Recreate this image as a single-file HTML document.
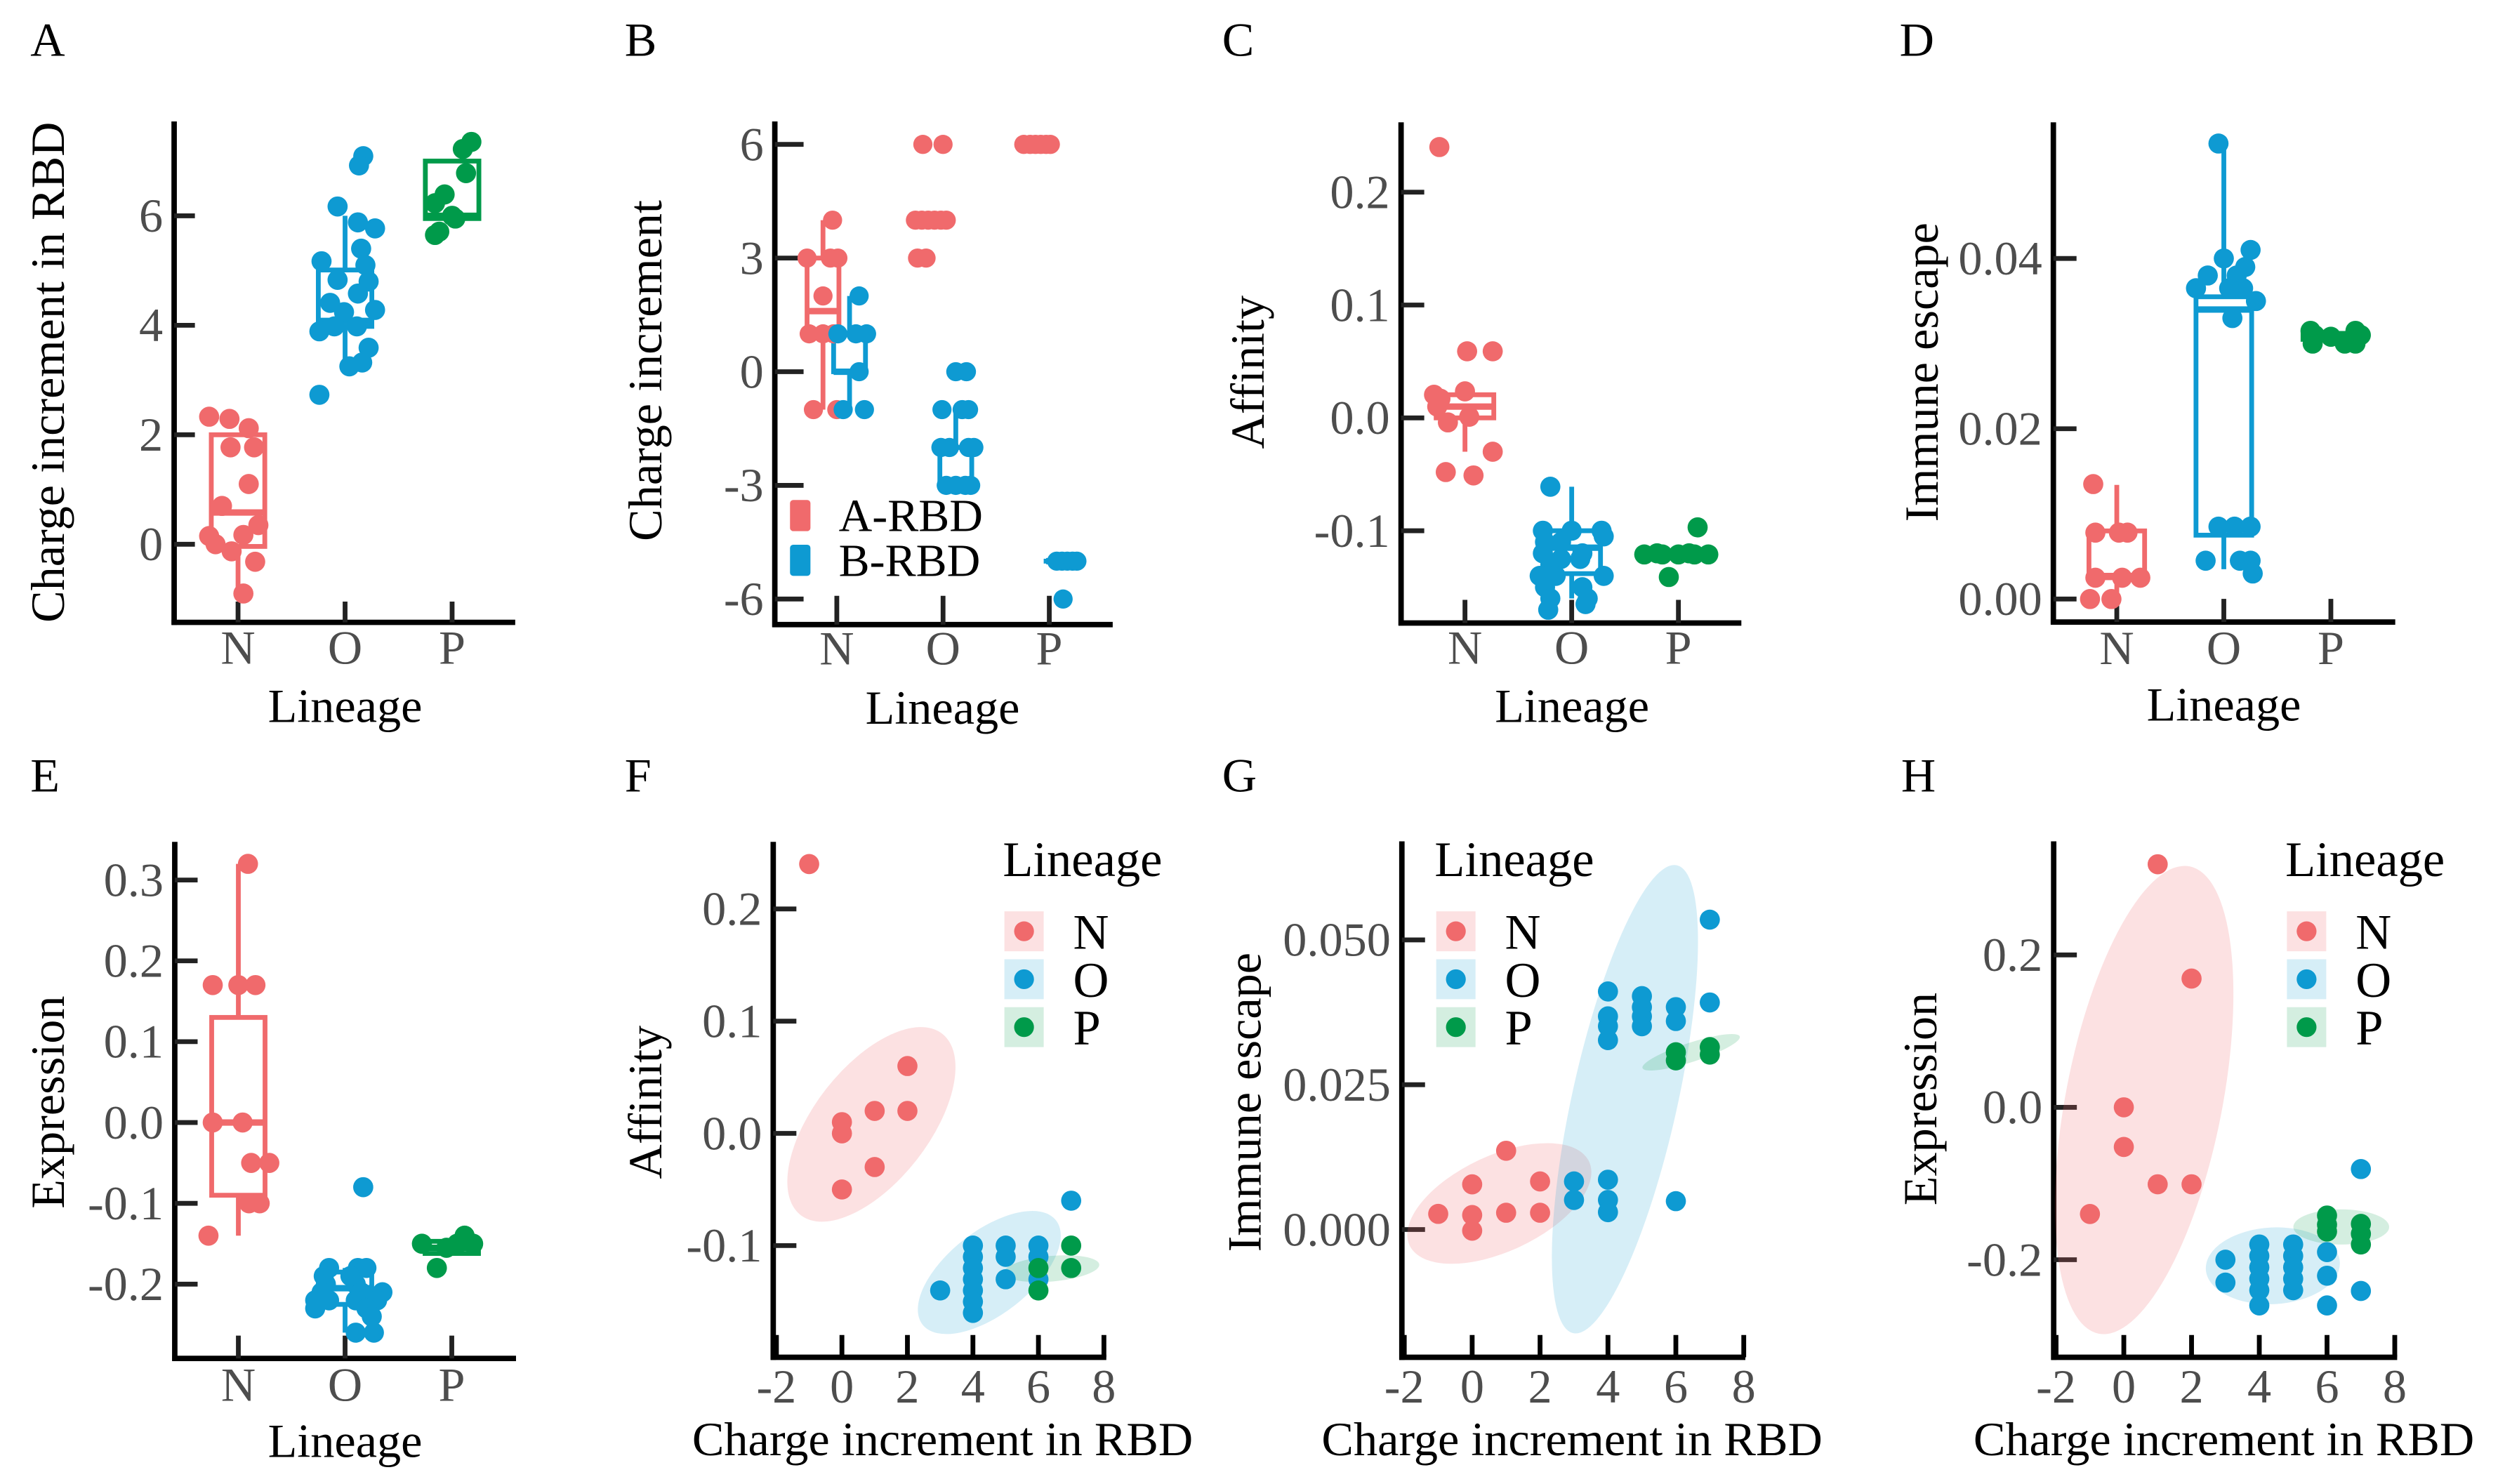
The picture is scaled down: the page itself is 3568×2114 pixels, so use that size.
<!DOCTYPE html>
<html><head><meta charset="utf-8"><title>Charge increment panels</title>
<style>
html,body{margin:0;padding:0;background:#fff;}
svg{display:block;}
text{font-family:"Liberation Serif","DejaVu Serif",serif;}
</style></head>
<body>
<svg id="fig" xmlns="http://www.w3.org/2000/svg" width="3568" height="2114" viewBox="0 0 1568 929" preserveAspectRatio="none">
<rect x="0" y="0" width="1568" height="929" fill="#fff"/>
</svg>
<script>
// ===== shared =====
const lineages = ['N','O','P'];
const COLORS = ['#F06A6C','#0E9AD2','#009A4A'];
const FILLS = ['rgba(240,106,108,0.2)','rgba(14,154,210,0.17)','rgba(0,154,74,0.17)'];

// ===== Panel A: charge increment in RBD by lineage =====
const aTicks = [0,2,4,6];
const aTickLabels = ['0','2','4','6'];
const aCat = [0,0,0,0,0,0,0,0,0,0,0,0,0,0, 1,1,1,1,1,1,1,1,1,1,1,1,1,1,1,1,1,1,1,1,1, 2,2,2,2,2,2,2,2,2];
const aVal = [2.33,2.29,2.12,1.77,1.77,1.1,0.7,0.35,0.15,0.17,0,-0.13,-0.32,-0.9,
  7.09,6.92,6.17,5.88,5.77,5.4,5.17,5.1,4.83,4.8,4.41,4.58,4.28,4.24,3.89,3.98,3.98,3.59,3.25,3.32,2.73,
  7.35,7.22,6.78,6.39,6.23,5.95,5.71,5.65,6.0];
const aJit = [-0.27,-0.08,0.1,-0.07,0.15,0.1,-0.15,0.19,-0.27,0.05,-0.21,-0.06,0.16,0.05,
  0.17,0.13,-0.07,0.12,0.28,0.15,-0.22,0.19,-0.07,0.22,-0.14,0.12,0.28,-0.01,-0.24,-0.1,0.11,0.22,0.04,0.16,-0.24,
  0.18,0.1,0.13,-0.07,-0.16,0.03,-0.12,-0.16,0.0];
const aLow = [-1.0,3.11,5.95], aQ1 = [-0.04,3.98,5.95], aMed = [0.58,4.08,6.0], aQ3 = [2.0,5.01,7.0], aHigh = [2.0,6.0,7.0];

// ===== Panel B: A-RBD / B-RBD =====
const bTicks = [-6,-3,0,3,6];
const bTickLabels = ['-6','-3','0','3','6'];
const bGroups = ['A-RBD','B-RBD'];
const bCat = [0,0,0,0,0,0,0,0,0,0, 0,0,0,0,0,0,0, 1,1,1,1,1,1,1,1,1,1, 1,1,1,1,1,1,1,1,1,1,1,1,1, 2,2,2,2,2,2, 2,2,2,2,2,2];
const bGrp = [0,0,0,0,0,0,0,0,0,0, 1,1,1,1,1,1,1, 0,0,0,0,0,0,0,0,0,0, 1,1,1,1,1,1,1,1,1,1,1,1,1, 0,0,0,0,0,0, 1,1,1,1,1,1];
const bVal = [4,3,3,3,2,1,1,1,-1,-1, 2,1,1,1,0,-1,-1, 6,6,4,4,4,4,4,4,3,3, 0,0,-1,-1,-1,-2,-2,-2,-2,-3,-3,-3,-3, 6,6,6,6,6,6, -5,-5,-5,-5,-5,-6];
const bJit = [0.09,-0.15,0.07,0.14,0,-0.13,0,0.1,-0.09,0.13, 0.09,-0.11,0.06,0.16,0.09,-0.06,0.14, -0.06,0.13,-0.13,-0.07,-0.01,0.05,0.11,0.16,-0.11,-0.03,
  0,0.1,-0.13,0.06,0.12,-0.14,-0.06,0.12,0.17,-0.09,0,0.09,0.14, -0.11,-0.05,0,0.05,0.1,0.14, -0.05,0,0.05,0.1,0.14,0.01];
const bBoxCat = [0,0,1,1,2,2];
const bBoxGrp = [0,1,0,1,0,1];
const bLow = [-1,-1,4,-3,6,-5], bQ1 = [1,0,4,-3,6,-5], bMed = [1.6,0,4,-3,6,-5], bQ3 = [3,1,4,-2,6,-5], bHigh = [4,2,4,-1,6,-5];

// ===== Panel C: affinity =====
const cTicks = [-0.1,0,0.1,0.2];
const cTickLabels = ['-0.1','0.0','0.1','0.2'];
const cCat = [0,0,0,0,0,0,0,0,0,0,0,0, 1,1,1,1,1,1,1,1,1,1,1,1,1,1,1,1,1,1,1,1,1, 2,2,2,2,2,2,2,2,2];
const cVal = [0.24,0.059,0.059,0.0205,0.0235,0.01,-0.004,0.001,-0.03,-0.048,-0.051,0.017,
  -0.061,-0.10,-0.10,-0.10,-0.105,-0.11,-0.11,-0.12,-0.12,-0.125,-0.125,-0.13,-0.14,-0.14,-0.14,-0.15,-0.15,-0.16,-0.16,-0.165,-0.17,
  -0.097,-0.121,-0.121,-0.121,-0.121,-0.121,-0.12,-0.12,-0.141];
const cJit = [-0.24,0.02,0.26,-0.29,0.0,-0.26,-0.16,0.04,0.26,-0.18,0.08,-0.23,
  -0.2,-0.27,0.0,0.28,0.3,-0.25,-0.1,-0.27,0.1,-0.1,0.08,-0.2,-0.3,-0.15,0.3,-0.25,0.1,-0.2,0.15,0.13,-0.22,
  0.18,-0.32,-0.15,0.0,0.15,0.28,-0.2,0.1,-0.09];
const cLow = [-0.03,-0.16,-0.121], cQ1 = [0.0,-0.138,-0.121], cMed = [0.01,-0.115,-0.121], cQ3 = [0.0205,-0.1,-0.121], cHigh = [0.0235,-0.061,-0.121];

// ===== Panel D: immune escape =====
const dTicks = [0,0.02,0.04];
const dTickLabels = ['0.00','0.02','0.04'];
const dCat = [0,0,0,0,0,0,0,0,0, 1,1,1,1,1,1,1,1,1,1,1,1,1,1,1,1,1,1, 2,2,2,2,2,2,2,2];
const dVal = [0.0135,0.0078,0.0078,0.0078,0.0025,0.0025,0.0025,0.0,0.0,
  0.0535,0.041,0.040,0.039,0.038,0.038,0.0365,0.0365,0.035,0.033,0.0085,0.0085,0.0085,0.0045,0.0045,0.0045,0.003,0.0365,
  0.0315,0.031,0.0315,0.031,0.030,0.030,0.030,0.0308];
const dJit = [-0.22,-0.2,0.02,0.1,-0.2,0.05,0.22,-0.25,-0.05,
  -0.05,0.25,0.0,0.2,-0.15,0.12,-0.26,0.18,0.3,0.08,-0.05,0.1,0.25,-0.17,0.15,0.25,0.27,0.05,
  -0.19,-0.15,0.23,0.28,-0.17,0.13,0.23,0.0];
const dLow = [0.0,0.0035,0.0305], dQ1 = [0.0025,0.0075,0.0305], dMed = [0.0027,0.034,0.031], dQ3 = [0.008,0.0355,0.0312], dHigh = [0.0134,0.0535,0.0315];

// ===== Panel E: expression =====
const eTicks = [-0.2,-0.1,0,0.1,0.2,0.3];
const eTickLabels = ['-0.2','-0.1','0.0','0.1','0.2','0.3'];
const eCat = [0,0,0,0,0,0,0,0,0,0,0, 1,1,1,1,1,1,1,1,1,1,1,1,1,1,1,1,1,1,1,1, 2,2,2,2,2,2,2];
const eVal = [0.32,0.17,0.17,0.17,0.0,0.0,-0.05,-0.05,-0.10,-0.10,-0.14,
  -0.08,-0.18,-0.18,-0.18,-0.19,-0.19,-0.20,-0.20,-0.21,-0.21,-0.21,-0.22,-0.22,-0.22,-0.22,-0.23,-0.23,-0.24,-0.26,-0.26,
  -0.14,-0.15,-0.15,-0.145,-0.15,-0.155,-0.18];
const eJit = [0.09,-0.24,0.0,0.16,-0.24,0.04,0.12,0.29,0.1,0.2,-0.28,
  0.17,-0.15,0.12,0.2,-0.2,0.05,-0.18,0.1,-0.22,0.15,0.35,-0.28,-0.15,0.1,0.3,-0.28,0.2,0.25,0.1,0.27,
  0.12,-0.28,0.05,0.11,0.2,-0.05,-0.14];
const eLow = [-0.14,-0.26,-0.162], eQ1 = [-0.09,-0.225,-0.162], eMed = [0.0,-0.205,-0.155], eQ3 = [0.13,-0.185,-0.147], eHigh = [0.32,-0.18,-0.145];

// ===== Scatter panels F/G/H (x = charge increment) =====
const xTicks = [-2,0,2,4,6,8];
const xTickLabels = ['-2','0','2','4','6','8'];
const fX = [-1,0,0,0,1,1,2,2, 3,4,4,4,4,4,4,4,5,5,5,6,6,6,7, 6,6,7,7];
const fY = [0.24,0.01,0.0,-0.05,0.02,-0.03,0.06,0.02, -0.14,-0.10,-0.11,-0.12,-0.13,-0.14,-0.15,-0.16,-0.10,-0.11,-0.13,-0.10,-0.11,-0.13,-0.06, -0.12,-0.14,-0.10,-0.12];
const fG = [0,0,0,0,0,0,0,0, 1,1,1,1,1,1,1,1,1,1,1,1,1,1,1, 2,2,2,2];
const fTicks = [-0.1,0,0.1,0.2];
const fTickLabels = ['-0.1','0.0','0.1','0.2'];
const fEllCx = [0.9,4.5,6.4], fEllCy = [0.008,-0.124,-0.1206];
const fEllA = [72,53,30], fEllB = [36,26,8], fEllAng = [-52,-38,-5];

const gX = [-1,0,0,0,1,1,2,2, 3,3,4,4,4,4,4,4,4,5,5,5,5,6,6,6,7,7, 6,6,7,7];
const gY = [0.0027,0.0078,0.0025,-0.0002,0.0136,0.0029,0.0083,0.0029,
  0.0083,0.0051,0.0086,0.0051,0.003,0.0411,0.0368,0.0351,0.0327,0.0403,0.0384,0.0368,0.0351,0.0384,0.036,0.0049,0.0535,0.0392,
  0.0306,0.0292,0.0315,0.0302];
const gG = [0,0,0,0,0,0,0,0, 1,1,1,1,1,1,1,1,1,1,1,1,1,1,1,1,1,1, 2,2,2,2];
const gTicks = [0,0.025,0.05];
const gTickLabels = ['0.000','0.025','0.050'];
const gEllCx = [0.8,4.5,6.45], gEllCy = [0.0045,0.0225,0.0306];
const gEllA = [62,150,32], gEllB = [30,33,6], gEllAng = [-25,-77.5,-18];

const hX = [-1,0,0,1,1,2,2, 3,3,4,4,4,4,4,4,5,5,5,5,5,6,6,6,7,7, 6,6,6,7,7,7];
const hY = [-0.14,0.0,-0.052,0.319,-0.101,0.169,-0.101,
  -0.20,-0.23,-0.18,-0.195,-0.21,-0.225,-0.24,-0.26,-0.18,-0.195,-0.21,-0.225,-0.24,-0.19,-0.221,-0.26,-0.081,-0.241,
  -0.142,-0.154,-0.163,-0.153,-0.166,-0.18];
const hG = [0,0,0,0,0,0,0, 1,1,1,1,1,1,1,1,1,1,1,1,1,1,1,1,1,1, 2,2,2,2,2,2];
const hTicks = [-0.2,0,0.2];
const hTickLabels = ['-0.2','0.0','0.2'];
const hEllCx = [0.6,4.4,6.42], hEllCy = [0.0096,-0.208,-0.157];
const hEllA = [149,42,30], hEllB = [49,24,11], hEllAng = [-79,-3,0];

// ===== drawing helpers =====
const NS = 'http://www.w3.org/2000/svg';
const svg = document.getElementById('fig');
function mk(tag, attrs, parent){
  const e = document.createElementNS(NS, tag);
  for (const k in attrs) e.setAttribute(k, attrs[k]);
  (parent || svg).appendChild(e);
  return e;
}
function lin(d0,d1,r0,r1){ return v => r0 + (v-d0)*(r1-r0)/(d1-d0); }
function txt(str, attrs, parent){ const t = mk('text', attrs, parent); t.textContent = str; return t; }

function axesCommon(g, c){
  const yl = mk('line',{x1:c.ax,y1:c.top,x2:c.ax,y2:c.ay+1.6,stroke:'#000','stroke-width':3.4},g);
  
  
  const xl = mk('line',{x1:c.ax-1.6,y1:c.ay,x2:c.right,y2:c.ay,stroke:'#000','stroke-width':3.4},g);
  
  
  c.yTicks.forEach((v,i)=>{
    const y = c.ys(v);
    const tk = mk('line',{x1:c.ax,y1:y,x2:c.ax+c.tickLen,y2:y,stroke:'#222','stroke-width':3},g);
    
    
    const tl = txt(c.yLabels[i],{x:c.ax-7,y:y+10,'text-anchor':'end','font-size':30,fill:'#4D4D4D'},g);
    
    
  });
  const yt = txt(c.ytitle,{x:0,y:0,'text-anchor':'middle','font-size':30,fill:'#000',transform:`translate(${c.ytx},${c.yty}) rotate(-90)`},g);
  
  
  const xt = txt(c.xtitle,{x:c.xtx,y:c.xty,'text-anchor':'middle','font-size':30,fill:'#000'},g);
  
  
  const lt = txt(c.letter,{x:c.lx,y:c.ly,'font-size':30,fill:'#000'},g);
  
  
}

function catAxis(g, c){
  lineages.forEach((L,i)=>{
    const x = c.xs(i);
    const tk = mk('line',{x1:x,y1:c.ay,x2:x,y2:c.ay-c.tickLen,stroke:'#222','stroke-width':3},g);
    
    
    const tl = txt(L,{x:x,y:c.xLabY,'text-anchor':'middle','font-size':30,fill:'#4D4D4D'},g);
    
    
  });
}

function drawBox(g, cx, half, ys, lo, q1, md, q3, hi, color){
  const w1 = mk('line',{x1:cx,y1:ys(hi),x2:cx,y2:ys(q3),stroke:color,'stroke-width':3},g);
  
  
  const w2 = mk('line',{x1:cx,y1:ys(q1),x2:cx,y2:ys(lo),stroke:color,'stroke-width':3},g);
  
  
  const top = ys(q3), bot = ys(q1);
  const r = mk('rect',{x:cx-half,y:top,width:2*half,height:Math.max(0.01,bot-top),fill:'none',stroke:color,'stroke-width':3},g);
  
  
  const m = mk('line',{x1:cx-half,y1:ys(md),x2:cx+half,y2:ys(md),stroke:color,'stroke-width':4},g);
  
  
}

function boxPanel(c, cat, val, jit, lo, q1, md, q3, hi){
  const g = mk('g',{});
  
  
  c.ys = lin(c.v0,c.v1,c.p0,c.p1);
  c.xs = i => c.n0 + i*c.dx;
  axesCommon(g,c);
  catAxis(g,c);
  lineages.forEach((L,i)=>{
    drawBox(g, c.xs(i), c.half*c.dx, c.ys, lo[i], q1[i], md[i], q3[i], hi[i], COLORS[i]);
  });
  val.forEach((v,k)=>{
    const p = mk('circle',{cx:c.xs(cat[k]+jit[k]),cy:c.ys(v),r:6.3,fill:COLORS[cat[k]]},g);
    
    
  });
}

function scatterPanel(c, X, Y, G, ecx, ecy, ea, eb, eang){
  const g = mk('g',{});
  
  
  c.ys = lin(c.v0,c.v1,c.p0,c.p1);
  const xs = lin(-2,8,c.xm2,c.x8);
  axesCommon(g,c);
  xTicks.forEach((v,i)=>{
    const x = xs(v);
    const tk = mk('line',{x1:x,y1:c.ay,x2:x,y2:c.ay-14,stroke:'#000','stroke-width':3},g);
    
    
    const tl = txt(xTickLabels[i],{x:x,y:c.xLabY,'text-anchor':'middle','font-size':30,fill:'#4D4D4D'},g);
    
    
  });
  lineages.forEach((L,i)=>{
    const e = mk('ellipse',{cx:0,cy:0,rx:ea[i],ry:eb[i],fill:FILLS[i],transform:`translate(${xs(ecx[i])},${c.ys(ecy[i])}) rotate(${eang[i]})`},g);
    
    
  });
  X.forEach((x,k)=>{
    const p = mk('circle',{cx:xs(x),cy:c.ys(Y[k]),r:6.3,fill:COLORS[G[k]]},g);
    
    
  });
  // legend
  const lg = mk('g',{},g);
  
  
  const lt = txt('Lineage',{x:c.legX-1,y:548.5,'font-size':31,fill:'#000'},lg);
  
  
  lineages.forEach((L,i)=>{
    const y = 570.5 + i*30;
    const kb = mk('rect',{x:c.legX,y:y,width:24.6,height:25,fill:FILLS[i]},lg);
    
    
    const kd = mk('circle',{cx:c.legX+12.3,cy:y+12.5,r:6.2,fill:COLORS[i]},lg);
    
    
    const kt = txt(L,{x:c.legX+43,y:y+23.5,'font-size':31,fill:'#000'},lg);
    
    
  });
}

// ===== Panel A =====
boxPanel({letter:'A',lx:19,ly:35,ax:109,ay:389.6,top:76,right:322.5,n0:149,dx:67,half:0.25,
  v0:0,p0:340.7,v1:6,p1:135.1,yTicks:aTicks,yLabels:aTickLabels,tickLen:13,
  ytitle:'Charge increment in RBD',ytx:40,yty:233,xtitle:'Lineage',xtx:216,xty:452,xLabY:415.5},
  aCat,aVal,aJit,aLow,aQ1,aMed,aQ3,aHigh);

// ===== Panel B (dodged) =====
(function(){
  const c = {letter:'B',lx:391,ly:35,ax:485,ay:391,top:76,right:696.5,n0:523.8,dx:66.5,
    v0:-6,p0:375,v1:6,p1:90.4,yTicks:bTicks,yLabels:bTickLabels,tickLen:18,
    ytitle:'Charge increment',ytx:414,yty:232,xtitle:'Lineage',xtx:590,xty:453,xLabY:416};
  const dodge = [-0.13,0.12];
  const g = mk('g',{});
  
  
  c.ys = lin(c.v0,c.v1,c.p0,c.p1);
  c.xs = i => c.n0 + i*c.dx;
  axesCommon(g,c);
  catAxis(g,c);
  bBoxCat.forEach((ci,k)=>{
    drawBox(g, c.xs(ci+dodge[bBoxGrp[k]]), 0.15*c.dx, c.ys, bLow[k], bQ1[k], bMed[k], bQ3[k], bHigh[k], COLORS[bBoxGrp[k]]);
  });
  bVal.forEach((v,k)=>{
    const grp = bGrp[k] || 0;
    const p = mk('circle',{cx:c.xs(bCat[k]+dodge[grp]+bJit[k]),cy:c.ys(v),r:6,fill:COLORS[grp]},g);
    
    
  });
  const lg = mk('g',{},g);
  
  
  bGroups.forEach((nm,i)=>{
    const y = 313 + i*28;
    const k = mk('rect',{x:494.5,y:y,width:12.8,height:19.5,rx:2,fill:COLORS[i]},lg);
    
    
    const t = txt(nm,{x:525,y:y+19.5,'font-size':29,fill:'#000'},lg);
    
    
  });
})();

// ===== Panel C =====
boxPanel({letter:'C',lx:765,ly:35,ax:877,ay:390,top:76.6,right:1090,n0:917,dx:66.8,half:0.27,
  v0:0,p0:261.6,v1:0.2,p1:120.3,yTicks:cTicks,yLabels:cTickLabels,tickLen:14.5,
  ytitle:'Affinity',ytx:791,yty:233,xtitle:'Lineage',xtx:984,xty:452,xLabY:415.5},
  cCat,cVal,cJit,cLow,cQ1,cMed,cQ3,cHigh);

// ===== Panel D =====
boxPanel({letter:'D',lx:1189,ly:35,ax:1285.3,ay:389.4,top:76.6,right:1499.3,n0:1325,dx:67,half:0.26,
  v0:0,p0:375,v1:0.04,p1:161.8,yTicks:dTicks,yLabels:dTickLabels,tickLen:14.5,
  ytitle:'Immune escape',ytx:1213,yty:233,xtitle:'Lineage',xtx:1392,xty:451,xLabY:415.7},
  dCat,dVal,dJit,dLow,dQ1,dMed,dQ3,dHigh);

// ===== Panel E =====
boxPanel({letter:'E',lx:19,ly:495.5,ax:109.4,ay:850.4,top:527,right:323,n0:149.2,dx:66.8,half:0.25,
  v0:0,p0:702.7,v1:0.3,p1:550.9,yTicks:eTicks,yLabels:eTickLabels,tickLen:14.3,
  ytitle:'Expression',ytx:40,yty:690,xtitle:'Lineage',xtx:216,xty:912,xLabY:877},
  eCat,eVal,eJit,eLow,eQ1,eMed,eQ3,eHigh);

// ===== Panel F =====
scatterPanel({letter:'F',lx:391,ly:495.5,ax:484,ay:849.7,top:527,right:692.5,xm2:486,x8:691,
  v0:0,p0:709.5,v1:0.2,p1:569,yTicks:fTicks,yLabels:fTickLabels,tickLen:14.5,
  ytitle:'Affinity',ytx:414,yty:690,xtitle:'Charge increment in RBD',xtx:590,xty:911,xLabY:878,legX:628.7},
  fX,fY,fG,fEllCx,fEllCy,fEllA,fEllB,fEllAng);

// ===== Panel G =====
scatterPanel({letter:'G',lx:765,ly:495.5,ax:877.5,ay:849.7,top:526.7,right:1092.5,xm2:879,x8:1091.5,
  v0:0,p0:769.7,v1:0.05,p1:588.4,yTicks:gTicks,yLabels:gTickLabels,tickLen:14.5,
  ytitle:'Immune escape',ytx:789,yty:690,xtitle:'Charge increment in RBD',xtx:984,xty:911,xLabY:878,legX:899},
  gX,gY,gG,gEllCx,gEllCy,gEllA,gEllB,gEllAng);

// ===== Panel H =====
scatterPanel({letter:'H',lx:1190,ly:495.5,ax:1285.5,ay:849.7,top:526.7,right:1500.5,xm2:1287,x8:1499,
  v0:0,p0:693.2,v1:0.2,p1:597.8,yTicks:hTicks,yLabels:hTickLabels,tickLen:14.5,
  ytitle:'Expression',ytx:1212,yty:688,xtitle:'Charge increment in RBD',xtx:1392,xty:911,xLabY:878,legX:1431.5},
  hX,hY,hG,hEllCx,hEllCy,hEllA,hEllB,hEllAng);
</script>
</body></html>
